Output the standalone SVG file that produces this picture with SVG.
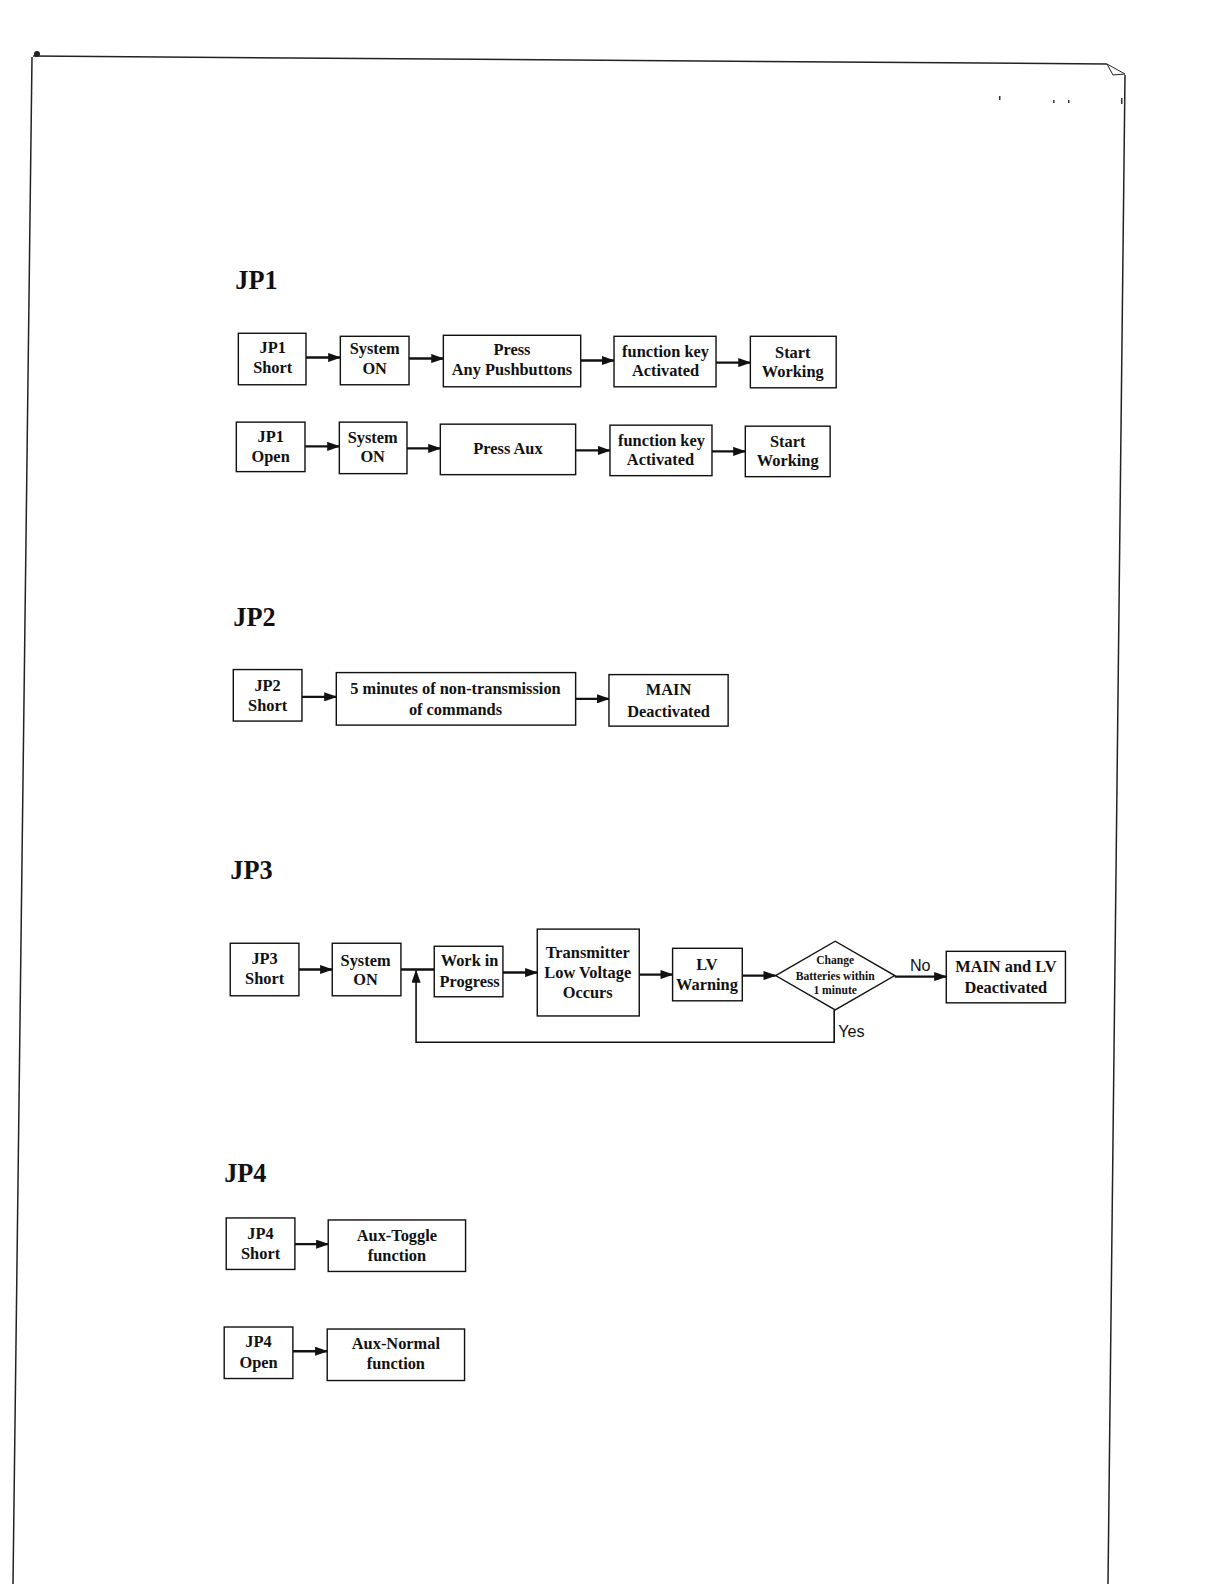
<svg xmlns="http://www.w3.org/2000/svg" width="1224" height="1584" viewBox="0 0 1224 1584">
<style>
.box{fill:#fff;stroke:#111;stroke-width:1.4}
.t{font-family:"Liberation Serif","Times New Roman",serif;font-weight:bold;font-size:16.2px;fill:#111;text-anchor:middle}
.h{font-family:"Liberation Serif","Times New Roman",serif;font-weight:bold;font-size:26px;fill:#111}
.s{font-family:"Liberation Sans",Arial,sans-serif;font-size:16px;fill:#111}
.d{font-family:"Liberation Serif","Times New Roman",serif;font-weight:bold;font-size:11.5px;fill:#111;text-anchor:middle}
.c{fill:none;stroke:#111;stroke-width:2.3}
.page{fill:none;stroke:#222;stroke-width:1.5}
</style>
<defs>
<marker id="ah" markerUnits="userSpaceOnUse" markerWidth="13" markerHeight="9" refX="12" refY="4.5" orient="auto">
<path d="M0,0 L13,4.5 L0,9 z" fill="#111"/>
</marker>
</defs>
<rect width="1224" height="1584" fill="#fff"/>
<g id="page">
<line class="page" x1="33" y1="56" x2="1107" y2="64"/>
<line class="page" x1="32" y1="57" x2="13" y2="1584"/>
<line class="page" x1="1125" y1="75" x2="1108" y2="1584"/>
<polygon points="1107,64 1125,74 1113,75" fill="#fff" stroke="#222" stroke-width="1"/>
<circle cx="37" cy="54" r="3" fill="#222"/>
<rect x="999" y="96" width="1.5" height="4" fill="#333"/>
<rect x="1053" y="100" width="1.5" height="3" fill="#333"/>
<rect x="1068" y="100" width="1.5" height="3" fill="#333"/>
<rect x="1121" y="98" width="1.5" height="6" fill="#333"/>
</g>
<g transform="scale(1.0099)">
<g id="headings">
<text class="h" x="233" y="286">JP1</text>
<text class="h" x="231" y="620">JP2</text>
<text class="h" x="228" y="870">JP3</text>
<text class="h" x="222" y="1170">JP4</text>
</g>
<g id="connectors">
<line class="c" x1="303" y1="354" x2="337" y2="354" marker-end="url(#ah)"/>
<line class="c" x1="405" y1="355" x2="439" y2="355" marker-end="url(#ah)"/>
<line class="c" x1="575" y1="357" x2="608" y2="357" marker-end="url(#ah)"/>
<line class="c" x1="709" y1="359" x2="743" y2="359" marker-end="url(#ah)"/>
<line class="c" x1="302" y1="442" x2="336" y2="442" marker-end="url(#ah)"/>
<line class="c" x1="403" y1="444" x2="436" y2="444" marker-end="url(#ah)"/>
<line class="c" x1="570" y1="446" x2="604" y2="446" marker-end="url(#ah)"/>
<line class="c" x1="705" y1="447" x2="738" y2="447" marker-end="url(#ah)"/>
<line class="c" x1="299" y1="690" x2="333" y2="690" marker-end="url(#ah)"/>
<line class="c" x1="570" y1="692" x2="603" y2="692" marker-end="url(#ah)"/>
<line class="c" x1="296" y1="960" x2="329" y2="960" marker-end="url(#ah)"/>
<line class="c" x1="397" y1="960" x2="430" y2="960"/>
<line class="c" x1="498" y1="963" x2="532" y2="963" marker-end="url(#ah)"/>
<line class="c" x1="633" y1="965" x2="666" y2="965" marker-end="url(#ah)"/>
<line class="c" x1="735" y1="966" x2="768" y2="966" marker-end="url(#ah)"/>
<line class="c" x1="886" y1="967" x2="937" y2="967" marker-end="url(#ah)"/>
<polyline class="c" style="stroke-width:1.6" points="826,1000 826,1032 412,1032 412,961" marker-end="url(#ah)"/>
<text class="s" x="901" y="961">No</text>
<text class="s" x="830" y="1027">Yes</text>
<line class="c" x1="292" y1="1232" x2="325" y2="1232" marker-end="url(#ah)"/>
<line class="c" x1="290" y1="1338" x2="324" y2="1338" marker-end="url(#ah)"/>
</g>
<g id="jp1-short"><rect class="box" x="236" y="330" width="67" height="51"/><text class="t" x="270" y="349.5">JP1</text><text class="t" x="270" y="369.5">Short</text></g>
<g id="jp1-system-on"><rect class="box" x="337" y="333" width="68" height="48"/><text class="t" x="371" y="350.5">System</text><text class="t" x="371" y="370.5">ON</text></g>
<g id="jp1-press-any"><rect class="box" x="439" y="332" width="136" height="51"/><text class="t" x="507" y="351.5">Press</text><text class="t" x="507" y="371.5">Any Pushbuttons</text></g>
<g id="jp1-fkey-1"><rect class="box" x="608" y="333" width="101" height="50"/><text class="t" x="659" y="353.5">function key</text><text class="t" x="659" y="372.5">Activated</text></g>
<g id="jp1-start-1"><rect class="box" x="743" y="333" width="85" height="51"/><text class="t" x="785" y="354.5">Start</text><text class="t" x="785" y="373.5">Working</text></g>
<g id="jp1-open"><rect class="box" x="234" y="418" width="68" height="49"/><text class="t" x="268" y="437.5">JP1</text><text class="t" x="268" y="457.5">Open</text></g>
<g id="jp1-system-on-2"><rect class="box" x="336" y="418" width="67" height="51"/><text class="t" x="369" y="438.5">System</text><text class="t" x="369" y="457.5">ON</text></g>
<g id="jp1-press-aux"><rect class="box" x="436" y="420" width="134" height="50"/><text class="t" x="503" y="449.5">Press Aux</text></g>
<g id="jp1-fkey-2"><rect class="box" x="604" y="421" width="101" height="50"/><text class="t" x="655" y="441.5">function key</text><text class="t" x="654" y="460.5">Activated</text></g>
<g id="jp1-start-2"><rect class="box" x="738" y="422" width="84" height="50"/><text class="t" x="780" y="442.5">Start</text><text class="t" x="780" y="461.5">Working</text></g>
<g id="jp2-short"><rect class="box" x="231" y="663" width="68" height="51"/><text class="t" x="265" y="684.5">JP2</text><text class="t" x="265" y="704.5">Short</text></g>
<g id="jp2-5min"><rect class="box" x="333" y="666" width="237" height="52"/><text class="t" x="451" y="687.5">5 minutes of non-transmission</text><text class="t" x="451" y="707.5">of commands</text></g>
<g id="jp2-main"><rect class="box" x="603" y="668" width="118" height="51"/><text class="t" x="662" y="688.5">MAIN</text><text class="t" x="662" y="709.5">Deactivated</text></g>
<g id="jp3-short"><rect class="box" x="228" y="934" width="68" height="52"/><text class="t" x="262" y="954.5">JP3</text><text class="t" x="262" y="974.5">Short</text></g>
<g id="jp3-system-on"><rect class="box" x="329" y="934" width="68" height="52"/><text class="t" x="362" y="956.5">System</text><text class="t" x="362" y="975.5">ON</text></g>
<g id="jp3-work"><rect class="box" x="430" y="937" width="68" height="50"/><text class="t" x="465" y="956.5">Work in</text><text class="t" x="465" y="977.5">Progress</text></g>
<g id="jp3-transmitter"><rect class="box" x="532" y="920" width="101" height="86"/><text class="t" x="582" y="948.5">Transmitter</text><text class="t" x="582" y="968.5">Low Voltage</text><text class="t" x="582" y="988.5">Occurs</text></g>
<g id="jp3-lv"><rect class="box" x="666" y="939" width="69" height="52"/><text class="t" x="700" y="960.5">LV</text><text class="t" x="700" y="980.5">Warning</text></g>
<g id="jp3-decision"><polygon class="box" points="768,966 827,932 886,966 827,1000"/><text class="d" x="827" y="955">Change</text><text class="d" x="827" y="970">Batteries within</text><text class="d" x="827" y="984">1 minute</text></g>
<g id="jp3-main-lv"><rect class="box" x="937" y="942" width="118" height="51"/><text class="t" x="996" y="962.5">MAIN and LV</text><text class="t" x="996" y="983.5">Deactivated</text></g>
<g id="jp4-short"><rect class="box" x="224" y="1206" width="68" height="51"/><text class="t" x="258" y="1226.5">JP4</text><text class="t" x="258" y="1246.5">Short</text></g>
<g id="jp4-toggle"><rect class="box" x="325" y="1208" width="136" height="51"/><text class="t" x="393" y="1228.5">Aux-Toggle</text><text class="t" x="393" y="1248.5">function</text></g>
<g id="jp4-open"><rect class="box" x="222" y="1314" width="68" height="51"/><text class="t" x="256" y="1333.5">JP4</text><text class="t" x="256" y="1354.5">Open</text></g>
<g id="jp4-normal"><rect class="box" x="324" y="1316" width="136" height="51"/><text class="t" x="392" y="1335.5">Aux-Normal</text><text class="t" x="392" y="1355.5">function</text></g>
</g>
</svg>
